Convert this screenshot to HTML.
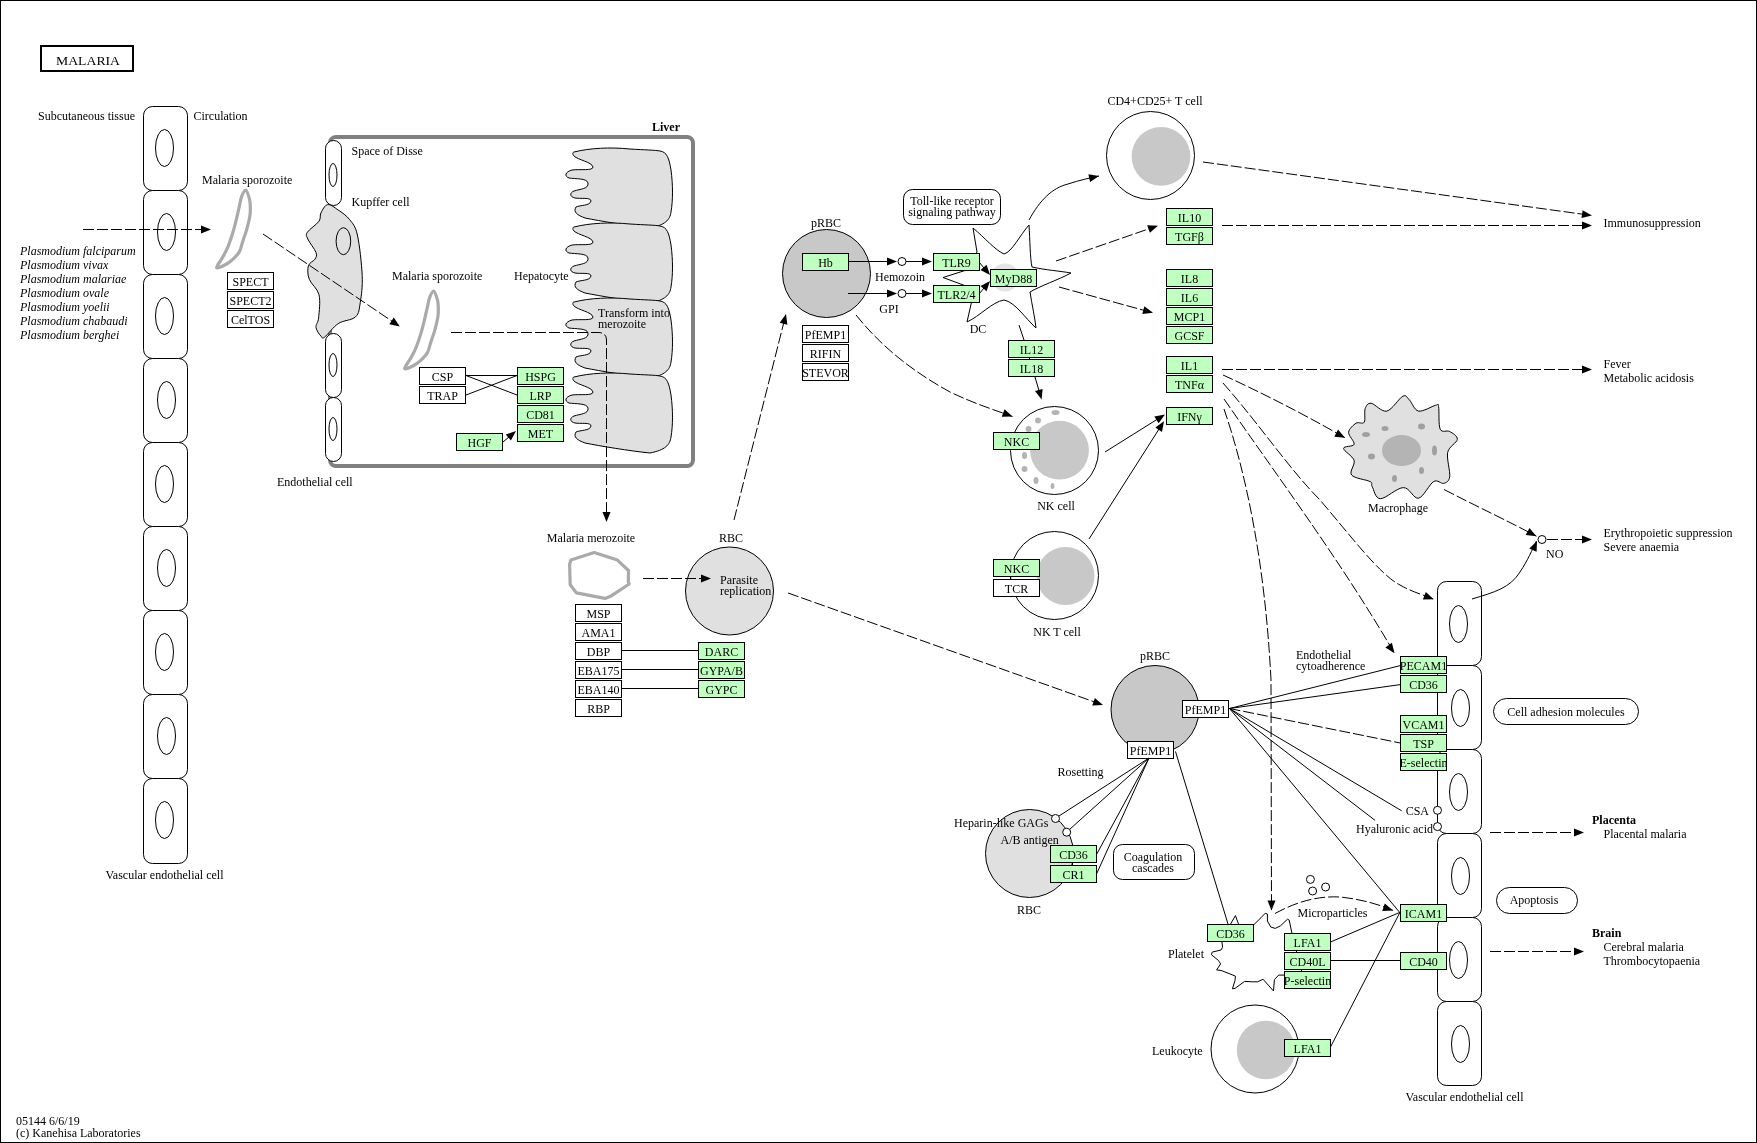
<!DOCTYPE html>
<html><head><meta charset="utf-8"><style>
html,body{margin:0;padding:0;background:#fff;}
svg{display:block;will-change:transform;}
text{font-family:"Liberation Serif",serif;font-size:12px;fill:#000;}
</style></head><body>
<svg width="1757" height="1143" viewBox="0 0 1757 1143">
<rect x="0" y="0" width="1757" height="1143" fill="#fff"/>
<rect x="0.5" y="0.5" width="1756" height="1142" fill="none" stroke="#000" stroke-width="1"/>

<rect x="41" y="46" width="92" height="25" fill="none" stroke="#000" stroke-width="2"/>
<text x="56" y="65" text-anchor="start" font-size="15" textLength="64" lengthAdjust="spacingAndGlyphs">MALARIA</text>
<text x="38" y="120" text-anchor="start" >Subcutaneous tissue</text>
<text x="193.5" y="120" text-anchor="start" >Circulation</text>
<rect x="143.5" y="106.5" width="44" height="84" rx="9" fill="#fff" stroke="#000"/>
<ellipse cx="164.5" cy="148" rx="9" ry="18.5" fill="none" stroke="#000"/>
<rect x="143.5" y="190.5" width="44" height="84" rx="9" fill="#fff" stroke="#000"/>
<ellipse cx="166.5" cy="232" rx="9" ry="18.5" fill="none" stroke="#000"/>
<rect x="143.5" y="274.5" width="44" height="84" rx="9" fill="#fff" stroke="#000"/>
<ellipse cx="164.5" cy="316" rx="9" ry="18.5" fill="none" stroke="#000"/>
<rect x="143.5" y="358.5" width="44" height="84" rx="9" fill="#fff" stroke="#000"/>
<ellipse cx="166.5" cy="400" rx="9" ry="18.5" fill="none" stroke="#000"/>
<rect x="143.5" y="442.5" width="44" height="84" rx="9" fill="#fff" stroke="#000"/>
<ellipse cx="164.5" cy="484" rx="9" ry="18.5" fill="none" stroke="#000"/>
<rect x="143.5" y="526.5" width="44" height="84" rx="9" fill="#fff" stroke="#000"/>
<ellipse cx="166.5" cy="568" rx="9" ry="18.5" fill="none" stroke="#000"/>
<rect x="143.5" y="610.5" width="44" height="84" rx="9" fill="#fff" stroke="#000"/>
<ellipse cx="164.5" cy="652" rx="9" ry="18.5" fill="none" stroke="#000"/>
<rect x="143.5" y="694.5" width="44" height="84" rx="9" fill="#fff" stroke="#000"/>
<ellipse cx="166.5" cy="736" rx="9" ry="18.5" fill="none" stroke="#000"/>
<rect x="143.5" y="778.5" width="44" height="85" rx="9" fill="#fff" stroke="#000"/>
<ellipse cx="164.5" cy="820" rx="9" ry="18.5" fill="none" stroke="#000"/>
<text x="164.5" y="879" text-anchor="middle" >Vascular endothelial cell</text>
<text x="20" y="255" text-anchor="start" font-style="italic">Plasmodium falciparum</text>
<text x="20" y="269" text-anchor="start" font-style="italic">Plasmodium vivax</text>
<text x="20" y="283" text-anchor="start" font-style="italic">Plasmodium malariae</text>
<text x="20" y="297" text-anchor="start" font-style="italic">Plasmodium ovale</text>
<text x="20" y="311" text-anchor="start" font-style="italic">Plasmodium yoelii</text>
<text x="20" y="325" text-anchor="start" font-style="italic">Plasmodium chabaudi</text>
<text x="20" y="339" text-anchor="start" font-style="italic">Plasmodium berghei</text>
<line x1="83" y1="229.5" x2="203.0" y2="229.5" stroke="#000" stroke-dasharray="11 3"/>
<polygon points="211.0,229.5 201.0,233.5 201.0,225.5" fill="#000"/>
<path d="M245.7,190.0 C247.0,190.4 248.7,196.2 249.5,199.1 C250.3,202.0 250.2,204.6 250.3,207.4 C250.4,210.2 250.5,211.9 249.9,215.7 C249.3,219.4 247.7,225.9 246.6,229.9 C245.5,233.9 244.4,236.3 243.2,239.9 C242.0,243.5 241.0,248.5 239.5,251.5 C238.0,254.5 236.2,256.0 234.1,258.1 C231.9,260.2 229.5,262.4 226.6,264.0 C223.7,265.6 217.4,268.5 216.6,267.7 C215.8,266.9 219.8,262.2 221.6,259.0 C223.4,255.8 225.6,252.4 227.4,248.2 C229.2,244.0 231.0,238.4 232.4,234.0 C233.8,229.6 234.7,226.0 235.8,221.6 C236.9,217.2 238.1,211.6 239.1,207.4 C240.1,203.2 240.5,199.5 241.6,196.6 C242.7,193.7 244.4,189.6 245.7,190.0 Z" fill="none" stroke="#aaaaaa" stroke-width="3.2"/>
<text x="202" y="184" text-anchor="start" >Malaria sporozoite</text>
<rect x="227.5" y="272.5" width="46" height="17" fill="#fff" stroke="#000"/>
<text x="250.5" y="286" text-anchor="middle" font-size="12">SPECT</text>
<rect x="227.5" y="291.5" width="46" height="17" fill="#fff" stroke="#000"/>
<text x="250.5" y="305" text-anchor="middle" font-size="12">SPECT2</text>
<rect x="227.5" y="310.5" width="46" height="17" fill="#fff" stroke="#000"/>
<text x="250.5" y="324" text-anchor="middle" font-size="12">CelTOS</text>
<rect x="330" y="137" width="363" height="329" rx="6" fill="none" stroke="#808080" stroke-width="4"/>
<text x="680" y="131" text-anchor="end" font-weight="bold">Liver</text>
<path d="M574,152 C590,148 610,147 630,149 C645,150 655,150 660,151 C667,152 669,158 671,170 C673,185 673,200 671,212 C670,220 665,225 650,228 C630,226 600,221 585,218 C577,215 573,212 576,207 C580,205 590,206 591,201 C591,197 580,199 575,198 C570,197 569,193 574,191 C580,189 589,189 588,183 C587,178 575,179 569,178 C564,176 565,172 572,170 C580,169 593,171 593,167 C592,162 578,160 574,156 C572,154 573,152 574,152 Z" transform="translate(0,0)" fill="#e0e0e0" stroke="#000"/>
<path d="M574,152 C590,148 610,147 630,149 C645,150 655,150 660,151 C667,152 669,158 671,170 C673,185 673,200 671,212 C670,220 665,225 650,228 C630,226 600,221 585,218 C577,215 573,212 576,207 C580,205 590,206 591,201 C591,197 580,199 575,198 C570,197 569,193 574,191 C580,189 589,189 588,183 C587,178 575,179 569,178 C564,176 565,172 572,170 C580,169 593,171 593,167 C592,162 578,160 574,156 C572,154 573,152 574,152 Z" transform="translate(0,75)" fill="#e0e0e0" stroke="#000"/>
<path d="M574,152 C590,148 610,147 630,149 C645,150 655,150 660,151 C667,152 669,158 671,170 C673,185 673,200 671,212 C670,220 665,225 650,228 C630,226 600,221 585,218 C577,215 573,212 576,207 C580,205 590,206 591,201 C591,197 580,199 575,198 C570,197 569,193 574,191 C580,189 589,189 588,183 C587,178 575,179 569,178 C564,176 565,172 572,170 C580,169 593,171 593,167 C592,162 578,160 574,156 C572,154 573,152 574,152 Z" transform="translate(0,150)" fill="#e0e0e0" stroke="#000"/>
<path d="M574,152 C590,148 610,147 630,149 C645,150 655,150 660,151 C667,152 669,158 671,170 C673,185 673,200 671,212 C670,220 665,225 650,228 C630,226 600,221 585,218 C577,215 573,212 576,207 C580,205 590,206 591,201 C591,197 580,199 575,198 C570,197 569,193 574,191 C580,189 589,189 588,183 C587,178 575,179 569,178 C564,176 565,172 572,170 C580,169 593,171 593,167 C592,162 578,160 574,156 C572,154 573,152 574,152 Z" transform="translate(0,225)" fill="#e0e0e0" stroke="#000"/>
<text x="514" y="280" text-anchor="start" >Hepatocyte</text>
<text x="598" y="317" text-anchor="start" >Transform into</text>
<text x="598" y="328" text-anchor="start" >merozoite</text>
<rect x="325.5" y="140.5" width="16" height="65" rx="8" fill="#fff" stroke="#000"/>
<ellipse cx="333" cy="175" rx="4" ry="11.5" fill="none" stroke="#000"/>
<rect x="325.5" y="333.5" width="16" height="64" rx="8" fill="#fff" stroke="#000"/>
<ellipse cx="333" cy="365" rx="4" ry="11.5" fill="none" stroke="#000"/>
<rect x="325.5" y="397.5" width="16" height="64" rx="8" fill="#fff" stroke="#000"/>
<ellipse cx="333" cy="429" rx="4" ry="11.5" fill="none" stroke="#000"/>
<text x="351.5" y="155" text-anchor="start" >Space of Disse</text>
<text x="351.5" y="206" text-anchor="start" >Kupffer cell</text>
<text x="277" y="486" text-anchor="start" >Endothelial cell</text>
<path d="M327.6,204.6 C324.7,205.1 322.3,210.2 320.9,213.0 C319.5,215.8 321.2,218.0 319.0,221.2 C316.8,224.4 309.3,229.2 307.4,232.2 C305.5,235.2 306.4,235.6 307.8,239.0 C309.2,242.4 314.8,249.1 316.0,252.4 C317.2,255.8 316.3,256.9 315.0,259.1 C313.7,261.3 309.3,262.4 308.4,265.8 C307.4,269.2 307.5,274.5 309.3,279.3 C311.1,284.1 317.4,288.3 319.0,294.7 C320.6,301.1 319.1,312.4 318.6,317.8 C318.1,323.2 315.6,324.3 316.0,327.4 C316.4,330.4 319.4,334.5 320.9,336.1 C322.3,337.7 321.8,339.1 324.7,337.0 C327.6,334.9 333.1,327.0 338.2,323.6 C343.3,320.2 351.8,320.4 355.5,316.9 C359.2,313.4 359.2,309.3 360.3,302.4 C361.4,295.5 362.7,286.7 362.2,275.5 C361.7,264.3 359.5,244.3 357.4,235.0 C355.3,225.7 352.9,223.9 349.7,219.7 C346.5,215.5 341.9,212.5 338.2,210.0 C334.5,207.5 330.5,204.1 327.6,204.6 Z" fill="#e0e0e0" stroke="#000"/>
<ellipse cx="343.4" cy="241.2" rx="7.3" ry="13.5" fill="none" stroke="#000"/>
<path d="M245.7,190.0 C247.0,190.4 248.7,196.2 249.5,199.1 C250.3,202.0 250.2,204.6 250.3,207.4 C250.4,210.2 250.5,211.9 249.9,215.7 C249.3,219.4 247.7,225.9 246.6,229.9 C245.5,233.9 244.4,236.3 243.2,239.9 C242.0,243.5 241.0,248.5 239.5,251.5 C238.0,254.5 236.2,256.0 234.1,258.1 C231.9,260.2 229.5,262.4 226.6,264.0 C223.7,265.6 217.4,268.5 216.6,267.7 C215.8,266.9 219.8,262.2 221.6,259.0 C223.4,255.8 225.6,252.4 227.4,248.2 C229.2,244.0 231.0,238.4 232.4,234.0 C233.8,229.6 234.7,226.0 235.8,221.6 C236.9,217.2 238.1,211.6 239.1,207.4 C240.1,203.2 240.5,199.5 241.6,196.6 C242.7,193.7 244.4,189.6 245.7,190.0 Z" transform="translate(188,101)" fill="none" stroke="#aaaaaa" stroke-width="3.2"/>
<text x="392" y="280" text-anchor="start" >Malaria sporozoite</text>
<line x1="263" y1="234" x2="393.2" y2="322.0" stroke="#000" stroke-dasharray="11 3"/>
<polygon points="399.8,326.5 389.3,324.2 393.8,317.6" fill="#000"/>
<rect x="419.5" y="367.5" width="46" height="17" fill="#fff" stroke="#000"/>
<text x="442.5" y="381" text-anchor="middle" font-size="12">CSP</text>
<rect x="419.5" y="386.5" width="46" height="17" fill="#fff" stroke="#000"/>
<text x="442.5" y="400" text-anchor="middle" font-size="12">TRAP</text>
<rect x="517.5" y="367.5" width="46" height="17" fill="#bfffbf" stroke="#000"/>
<text x="540.5" y="381" text-anchor="middle" font-size="12">HSPG</text>
<rect x="517.5" y="386.5" width="46" height="17" fill="#bfffbf" stroke="#000"/>
<text x="540.5" y="400" text-anchor="middle" font-size="12">LRP</text>
<rect x="517.5" y="405.5" width="46" height="17" fill="#bfffbf" stroke="#000"/>
<text x="540.5" y="419" text-anchor="middle" font-size="12">CD81</text>
<rect x="517.5" y="424.5" width="46" height="17" fill="#bfffbf" stroke="#000"/>
<text x="540.5" y="438" text-anchor="middle" font-size="12">MET</text>
<rect x="456.5" y="433.5" width="46" height="17" fill="#bfffbf" stroke="#000"/>
<text x="479.5" y="447" text-anchor="middle" font-size="12">HGF</text>
<line x1="466" y1="375.5" x2="517.0" y2="375.5" stroke="#000"/>
<line x1="466" y1="375.5" x2="517.0" y2="395.0" stroke="#000"/>
<line x1="466" y1="395" x2="517.0" y2="375.5" stroke="#000"/>
<line x1="503" y1="442" x2="509.9" y2="436.2" stroke="#000"/>
<polygon points="516.0,431.0 510.9,440.5 505.8,434.4" fill="#000"/>
<path d="M451,332.5 L598,332.5 Q606.5,332.5 606.5,340 L606.5,514" fill="none" stroke="#000" stroke-dasharray="11 3"/>
<polygon points="606.5,522.0 602.5,512.0 610.5,512.0" fill="#000"/>
<text x="591" y="542" text-anchor="middle" >Malaria merozoite</text>
<path d="M570.9,560.1 L594.2,552.6 L617.4,560.1 L628.5,570.5 L628.3,582 L629.2,584 L610.5,596.3 L605,598.4 L576.4,592.9 L570.2,584.7 L569.6,564.2 Z" fill="none" stroke="#aaaaaa" stroke-width="3.2" stroke-linejoin="round"/>
<text x="731" y="542" text-anchor="middle" >RBC</text>
<circle cx="729.5" cy="591" r="44" fill="#e0e0e0" stroke="#000"/>
<text x="720" y="584" text-anchor="start" >Parasite</text>
<text x="720" y="595" text-anchor="start" >replication</text>
<line x1="643" y1="578.5" x2="703.0" y2="578.5" stroke="#000" stroke-dasharray="11 3"/>
<polygon points="711.0,578.5 701.0,582.5 701.0,574.5" fill="#000"/>
<rect x="575.5" y="604.5" width="46" height="17" fill="#fff" stroke="#000"/>
<text x="598.5" y="618" text-anchor="middle" font-size="12">MSP</text>
<rect x="575.5" y="623.5" width="46" height="17" fill="#fff" stroke="#000"/>
<text x="598.5" y="637" text-anchor="middle" font-size="12">AMA1</text>
<rect x="575.5" y="642.5" width="46" height="17" fill="#fff" stroke="#000"/>
<text x="598.5" y="656" text-anchor="middle" font-size="12">DBP</text>
<rect x="575.5" y="661.5" width="46" height="17" fill="#fff" stroke="#000"/>
<text x="598.5" y="675" text-anchor="middle" font-size="12">EBA175</text>
<rect x="575.5" y="680.5" width="46" height="17" fill="#fff" stroke="#000"/>
<text x="598.5" y="694" text-anchor="middle" font-size="12">EBA140</text>
<rect x="575.5" y="699.5" width="46" height="17" fill="#fff" stroke="#000"/>
<text x="598.5" y="713" text-anchor="middle" font-size="12">RBP</text>
<rect x="698.5" y="642.5" width="46" height="17" fill="#bfffbf" stroke="#000"/>
<text x="721.5" y="656" text-anchor="middle" font-size="12">DARC</text>
<line x1="621" y1="650.5" x2="698.0" y2="650.5" stroke="#000"/>
<rect x="698.5" y="661.5" width="46" height="17" fill="#bfffbf" stroke="#000"/>
<text x="721.5" y="675" text-anchor="middle" font-size="12">GYPA/B</text>
<line x1="621" y1="669.5" x2="698.0" y2="669.5" stroke="#000"/>
<rect x="698.5" y="680.5" width="46" height="17" fill="#bfffbf" stroke="#000"/>
<text x="721.5" y="694" text-anchor="middle" font-size="12">GYPC</text>
<line x1="621" y1="688.5" x2="698.0" y2="688.5" stroke="#000"/>
<line x1="734" y1="520" x2="784.0" y2="321.8" stroke="#000" stroke-dasharray="11 3"/>
<polygon points="786.0,314.0 787.4,324.7 779.7,322.7" fill="#000"/>
<line x1="788" y1="593" x2="1095.5" y2="702.3" stroke="#000" stroke-dasharray="11 3"/>
<polygon points="1103.0,705.0 1092.2,705.4 1094.9,697.9" fill="#000"/>
<text x="826" y="227" text-anchor="middle" >pRBC</text>
<circle cx="826.5" cy="273.5" r="44" fill="#c8c8c8" stroke="#000"/>
<rect x="802.5" y="253.5" width="46" height="17" fill="#bfffbf" stroke="#000"/>
<text x="825.5" y="267" text-anchor="middle" font-size="12">Hb</text>
<rect x="802.5" y="325.5" width="46" height="17" fill="#fff" stroke="#000"/>
<text x="825.5" y="339" text-anchor="middle" font-size="12">PfEMP1</text>
<rect x="802.5" y="344.5" width="46" height="17" fill="#fff" stroke="#000"/>
<text x="825.5" y="358" text-anchor="middle" font-size="12">RIFIN</text>
<rect x="802.5" y="363.5" width="46" height="17" fill="#fff" stroke="#000"/>
<text x="825.5" y="377" text-anchor="middle" font-size="12">STEVOR</text>
<rect x="903.5" y="189.5" width="97" height="35" rx="9" fill="#fff" stroke="#000"/>
<text x="952" y="205" text-anchor="middle" >Toll-like receptor</text>
<text x="952" y="216" text-anchor="middle" >signaling pathway</text>
<path d="M973,228 C985,238 995,250 1004,254 C1012,252 1020,235 1029,225 C1030,240 1030,258 1032,267 C1045,270 1060,271 1071,273 C1058,280 1040,286 1030,292 C1032,305 1035,318 1036,328 C1025,318 1015,302 1004,300 C992,302 980,316 967,322 L972,300 L966,286 L943,277.5 L965,270.5 L977,252 L973,228 Z" fill="#fff" stroke="#000"/>
<circle cx="1005" cy="277.5" r="14" fill="#e4e4e4"/>
<text x="978" y="333" text-anchor="middle" >DC</text>
<rect x="933.5" y="253.5" width="46" height="17" fill="#bfffbf" stroke="#000"/>
<text x="956.5" y="267" text-anchor="middle" font-size="12">TLR9</text>
<rect x="933.5" y="285.5" width="46" height="17" fill="#bfffbf" stroke="#000"/>
<text x="956.5" y="299" text-anchor="middle" font-size="12">TLR2/4</text>
<rect x="990.5" y="269.5" width="46" height="17" fill="#bfffbf" stroke="#000"/>
<text x="1013.5" y="283" text-anchor="middle" font-size="12">MyD88</text>
<line x1="848" y1="261.5" x2="889.0" y2="261.5" stroke="#000"/>
<polygon points="897.0,261.5 887.0,265.5 887.0,257.5" fill="#000"/>
<circle cx="902" cy="261.5" r="4" fill="#fff" stroke="#000"/>
<line x1="906" y1="261.5" x2="924.0" y2="261.5" stroke="#000"/>
<polygon points="932.0,261.5 922.0,265.5 922.0,257.5" fill="#000"/>
<line x1="848" y1="293.5" x2="889.0" y2="293.5" stroke="#000"/>
<polygon points="897.0,293.5 887.0,297.5 887.0,289.5" fill="#000"/>
<circle cx="902" cy="293.5" r="4" fill="#fff" stroke="#000"/>
<line x1="906" y1="293.5" x2="924.0" y2="293.5" stroke="#000"/>
<polygon points="932.0,293.5 922.0,297.5 922.0,289.5" fill="#000"/>
<text x="900" y="281" text-anchor="middle" >Hemozoin</text>
<text x="889" y="313" text-anchor="middle" >GPI</text>
<line x1="979" y1="262" x2="984.8" y2="268.9" stroke="#000"/>
<polygon points="990.0,275.0 980.5,269.9 986.6,264.8" fill="#000"/>
<line x1="979" y1="294" x2="984.8" y2="287.1" stroke="#000"/>
<polygon points="990.0,281.0 986.6,291.2 980.5,286.1" fill="#000"/>
<rect x="1008.5" y="340.5" width="46" height="17" fill="#bfffbf" stroke="#000"/>
<text x="1031.5" y="354" text-anchor="middle" font-size="12">IL12</text>
<rect x="1008.5" y="359.5" width="46" height="17" fill="#bfffbf" stroke="#000"/>
<text x="1031.5" y="373" text-anchor="middle" font-size="12">IL18</text>
<line x1="1019" y1="325" x2="1024.0" y2="340.0" stroke="#000"/>
<line x1="1035" y1="377" x2="1039.4" y2="391.9" stroke="#000"/>
<polygon points="1041.6,399.6 1035.0,391.1 1042.6,388.9" fill="#000"/>
<path d="M856,315 C880,345 910,370 950,392 C975,404 995,410 1012.5,416.6" fill="none" stroke="#000" stroke-dasharray="11 3"/>
<polygon points="1012.5,416.6 1001.7,416.8 1004.6,409.3" fill="#000"/>
<text x="1155" y="105" text-anchor="middle" >CD4+CD25+ T cell</text>
<circle cx="1150.5" cy="155.5" r="44" fill="#fff" stroke="#000"/>
<circle cx="1161" cy="156.4" r="29.4" fill="#c8c8c8"/>
<path d="M1029,220 C1040,200 1052,188 1068,184 C1080,180 1090,178 1099,176" fill="none" stroke="#000"/>
<polygon points="1099.0,176.0 1090.1,182.0 1088.4,174.2" fill="#000"/>
<line x1="1203" y1="162" x2="1584.1" y2="214.4" stroke="#000" stroke-dasharray="11 3"/>
<polygon points="1592.0,215.5 1581.5,218.1 1582.6,210.2" fill="#000"/>
<rect x="1166.5" y="208.5" width="46" height="17" fill="#bfffbf" stroke="#000"/>
<text x="1189.5" y="222" text-anchor="middle" font-size="12">IL10</text>
<rect x="1166.5" y="227.5" width="46" height="17" fill="#bfffbf" stroke="#000"/>
<text x="1189.5" y="241" text-anchor="middle" font-size="12">TGF&#946;</text>
<rect x="1166.5" y="269.5" width="46" height="17" fill="#bfffbf" stroke="#000"/>
<text x="1189.5" y="283" text-anchor="middle" font-size="12">IL8</text>
<rect x="1166.5" y="288.5" width="46" height="17" fill="#bfffbf" stroke="#000"/>
<text x="1189.5" y="302" text-anchor="middle" font-size="12">IL6</text>
<rect x="1166.5" y="307.5" width="46" height="17" fill="#bfffbf" stroke="#000"/>
<text x="1189.5" y="321" text-anchor="middle" font-size="12">MCP1</text>
<rect x="1166.5" y="326.5" width="46" height="17" fill="#bfffbf" stroke="#000"/>
<text x="1189.5" y="340" text-anchor="middle" font-size="12">GCSF</text>
<rect x="1166.5" y="356.5" width="46" height="17" fill="#bfffbf" stroke="#000"/>
<text x="1189.5" y="370" text-anchor="middle" font-size="12">IL1</text>
<rect x="1166.5" y="375.5" width="46" height="17" fill="#bfffbf" stroke="#000"/>
<text x="1189.5" y="389" text-anchor="middle" font-size="12">TNF&#945;</text>
<rect x="1166.5" y="407.5" width="46" height="17" fill="#bfffbf" stroke="#000"/>
<text x="1189.5" y="421" text-anchor="middle" font-size="12">IFN&#947;</text>
<line x1="1056" y1="261" x2="1150.4" y2="228.3" stroke="#000" stroke-dasharray="11 3"/>
<polygon points="1158.0,225.7 1149.9,232.8 1147.2,225.2" fill="#000"/>
<line x1="1059" y1="287" x2="1145.3" y2="310.7" stroke="#000" stroke-dasharray="11 3"/>
<polygon points="1153.0,312.8 1142.3,314.0 1144.4,306.3" fill="#000"/>
<line x1="1222" y1="225.5" x2="1584.0" y2="225.5" stroke="#000" stroke-dasharray="11 3"/>
<polygon points="1592.0,225.5 1582.0,229.5 1582.0,221.5" fill="#000"/>
<text x="1603.5" y="227" text-anchor="start" >Immunosuppression</text>
<line x1="1222" y1="369.5" x2="1584.0" y2="369.5" stroke="#000" stroke-dasharray="11 3"/>
<polygon points="1592.0,369.5 1582.0,373.5 1582.0,365.5" fill="#000"/>
<text x="1603.5" y="367.5" text-anchor="start" >Fever</text>
<text x="1603.5" y="381.5" text-anchor="start" >Metabolic acidosis</text>
<circle cx="1054.5" cy="450.5" r="44" fill="#fff" stroke="#000"/>
<circle cx="1059.5" cy="450.2" r="29.4" fill="#c8c8c8"/>
<ellipse cx="1055.5" cy="412.5" rx="4" ry="2.5" fill="#b4b4b4"/>
<ellipse cx="1038" cy="420.5" rx="3" ry="3" fill="#b4b4b4"/>
<ellipse cx="1028.5" cy="429" rx="3" ry="3" fill="#b4b4b4"/>
<ellipse cx="1024.5" cy="455.5" rx="2.5" ry="3.5" fill="#b4b4b4"/>
<ellipse cx="1024.5" cy="469" rx="3" ry="3" fill="#b4b4b4"/>
<ellipse cx="1036" cy="480.5" rx="2.5" ry="3.5" fill="#b4b4b4"/>
<ellipse cx="1052.5" cy="486" rx="2" ry="3" fill="#b4b4b4"/>
<rect x="993.5" y="432.5" width="46" height="17" fill="#bfffbf" stroke="#000"/>
<text x="1016.5" y="446" text-anchor="middle" font-size="12">NKC</text>
<text x="1056" y="510" text-anchor="middle" >NK cell</text>
<line x1="1105" y1="452" x2="1158.2" y2="418.7" stroke="#000"/>
<polygon points="1165.0,414.5 1158.6,423.2 1154.4,416.4" fill="#000"/>
<circle cx="1054.5" cy="575.5" r="44" fill="#fff" stroke="#000"/>
<circle cx="1065.5" cy="576" r="29" fill="#c8c8c8"/>
<rect x="993.5" y="559.5" width="46" height="17" fill="#bfffbf" stroke="#000"/>
<text x="1016.5" y="573" text-anchor="middle" font-size="12">NKC</text>
<rect x="993.5" y="579.5" width="46" height="17" fill="#fff" stroke="#000"/>
<text x="1016.5" y="593" text-anchor="middle" font-size="12">TCR</text>
<text x="1057" y="636" text-anchor="middle" >NK T cell</text>
<line x1="1089" y1="539" x2="1159.7" y2="428.0" stroke="#000"/>
<polygon points="1164.0,421.3 1162.0,431.9 1155.3,427.6" fill="#000"/>
<path d="M1402.9,396.2 C1406.7,394.4 1406.9,397.6 1409.5,400.1 C1412.1,402.6 1414.2,410.2 1418.5,411.1 C1422.8,412.0 1432.2,406.1 1435.6,405.3 C1438.9,404.6 1437.8,402.6 1438.6,406.6 C1439.4,410.6 1438.3,425.1 1440.2,429.2 C1442.1,433.3 1446.9,429.8 1449.7,431.5 C1452.5,433.2 1457.6,435.8 1457.3,439.3 C1457.0,442.8 1449.0,446.2 1447.7,452.4 C1446.4,458.6 1450.4,471.3 1449.7,476.5 C1449.0,481.7 1446.4,482.5 1443.7,483.4 C1441.0,484.2 1437.8,479.1 1433.6,481.6 C1429.4,484.1 1423.5,497.2 1418.5,498.2 C1413.5,499.2 1409.8,487.5 1403.4,487.6 C1397.0,487.7 1385.5,498.9 1380.3,498.7 C1375.1,498.5 1373.9,489.5 1372.2,486.6 C1370.5,483.8 1373.6,483.5 1370.2,481.6 C1366.8,479.7 1354.3,478.5 1351.6,475.0 C1348.9,471.5 1355.4,464.8 1354.1,460.4 C1352.8,456.0 1343.6,451.1 1343.6,448.4 C1343.6,445.7 1353.3,447.0 1354.1,444.3 C1354.9,441.6 1348.3,435.8 1348.6,432.3 C1348.9,428.8 1353.5,424.9 1356.1,423.2 C1358.7,421.5 1362.7,424.6 1364.2,422.2 C1365.7,419.8 1364.0,411.8 1365.2,408.6 C1366.4,405.5 1367.6,402.9 1371.2,403.3 C1374.8,403.7 1381.5,412.3 1386.8,411.1 C1392.1,409.9 1399.1,398.0 1402.9,396.2 Z" fill="#e0e0e0" stroke="#000"/>
<ellipse cx="1401.5" cy="450.5" rx="19.5" ry="15.5" fill="#b4b4b4"/>
<ellipse cx="1366" cy="434.5" rx="4" ry="2.5" fill="#a0a0a0"/>
<ellipse cx="1385" cy="428.5" rx="3.5" ry="2.5" fill="#a0a0a0"/>
<ellipse cx="1421.5" cy="426.5" rx="3.5" ry="3" fill="#a0a0a0"/>
<ellipse cx="1434.5" cy="450.5" rx="2.5" ry="5" fill="#a0a0a0"/>
<ellipse cx="1371.5" cy="456.5" rx="3.5" ry="3" fill="#a0a0a0"/>
<ellipse cx="1421.5" cy="470.5" rx="2.5" ry="3.5" fill="#a0a0a0"/>
<ellipse cx="1394.5" cy="478.5" rx="2.5" ry="3.5" fill="#a0a0a0"/>
<text x="1398" y="512" text-anchor="middle" >Macrophage</text>
<path d="M1223,375 C1260,392 1300,412 1345,437.8" fill="none" stroke="#000" stroke-dasharray="11 3"/>
<polygon points="1345.0,437.8 1334.3,436.7 1338.0,429.6" fill="#000"/>
<path d="M1223,383 C1260,425 1290,470 1320,500 C1350,535 1380,575 1400,585 C1412,592 1424,595 1433.7,599.3" fill="none" stroke="#000" stroke-dasharray="11 3"/>
<polygon points="1433.7,599.3 1422.9,599.4 1425.8,592.0" fill="#000"/>
<path d="M1224,399 C1280,480 1340,560 1394.5,653.3" fill="none" stroke="#000" stroke-dasharray="11 3"/>
<polygon points="1394.5,653.3 1385.4,647.5 1391.9,642.8" fill="#000"/>
<path d="M1224,409 C1245,470 1265,560 1271,680 L1271.5,910" fill="none" stroke="#000" stroke-dasharray="11 3"/>
<polygon points="1271.5,910.5 1267.5,900.5 1275.5,900.5" fill="#000"/>
<path d="M1444,489.5 C1480,508 1510,522 1536.4,536.2" fill="none" stroke="#000" stroke-dasharray="11 3"/>
<polygon points="1536.4,536.2 1525.7,534.9 1529.5,527.9" fill="#000"/>
<circle cx="1542" cy="539.5" r="4" fill="#fff" stroke="#000"/>
<line x1="1547" y1="539.5" x2="1584.0" y2="539.5" stroke="#000" stroke-dasharray="11 3"/>
<polygon points="1592.0,539.5 1582.0,543.5 1582.0,535.5" fill="#000"/>
<text x="1546" y="558" text-anchor="start" >NO</text>
<text x="1603.5" y="537" text-anchor="start" >Erythropoietic suppression</text>
<text x="1603.5" y="551" text-anchor="start" >Severe anaemia</text>
<rect x="1437.5" y="581.5" width="44" height="84" rx="9" fill="#fff" stroke="#000"/>
<ellipse cx="1458.5" cy="624" rx="9" ry="18.5" fill="none" stroke="#000"/>
<rect x="1437.5" y="665.5" width="44" height="84" rx="9" fill="#fff" stroke="#000"/>
<ellipse cx="1460.5" cy="708" rx="9" ry="18.5" fill="none" stroke="#000"/>
<rect x="1437.5" y="749.5" width="44" height="84" rx="9" fill="#fff" stroke="#000"/>
<ellipse cx="1458.5" cy="792" rx="9" ry="18.5" fill="none" stroke="#000"/>
<rect x="1437.5" y="833.5" width="44" height="84" rx="9" fill="#fff" stroke="#000"/>
<ellipse cx="1460.5" cy="876" rx="9" ry="18.5" fill="none" stroke="#000"/>
<rect x="1437.5" y="917.5" width="44" height="84" rx="9" fill="#fff" stroke="#000"/>
<ellipse cx="1458.5" cy="960" rx="9" ry="18.5" fill="none" stroke="#000"/>
<rect x="1437.5" y="1001.5" width="44" height="84" rx="9" fill="#fff" stroke="#000"/>
<ellipse cx="1460.5" cy="1044" rx="9" ry="18.5" fill="none" stroke="#000"/>
<text x="1464.5" y="1101" text-anchor="middle" >Vascular endothelial cell</text>
<path d="M1472,599 C1495,592 1510,588 1520,572 C1528,560 1532,550 1536.4,541.2" fill="none" stroke="#000"/>
<polygon points="1537.0,541.0 1536.6,551.8 1529.3,548.5" fill="#000"/>
<text x="1155" y="660" text-anchor="middle" >pRBC</text>
<circle cx="1155" cy="709.5" r="44" fill="#c8c8c8" stroke="#000"/>
<rect x="1182.5" y="700.5" width="46" height="17" fill="#fff" stroke="#000"/>
<text x="1205.5" y="714" text-anchor="middle" font-size="12">PfEMP1</text>
<rect x="1127.5" y="741.5" width="46" height="17" fill="#fff" stroke="#000"/>
<text x="1150.5" y="755" text-anchor="middle" font-size="12">PfEMP1</text>
<text x="1057.5" y="776" text-anchor="start" >Rosetting</text>
<circle cx="1029.5" cy="853.5" r="44" fill="#e0e0e0" stroke="#000"/>
<text x="1029" y="914" text-anchor="middle" >RBC</text>
<text x="954" y="827" text-anchor="start" >Heparin-like GAGs</text>
<text x="1000.5" y="843.5" text-anchor="start" >A/B antigen</text>
<rect x="1050.5" y="845.5" width="46" height="17" fill="#bfffbf" stroke="#000"/>
<text x="1073.5" y="859" text-anchor="middle" font-size="12">CD36</text>
<rect x="1050.5" y="865.5" width="46" height="17" fill="#bfffbf" stroke="#000"/>
<text x="1073.5" y="879" text-anchor="middle" font-size="12">CR1</text>
<line x1="1149" y1="758" x2="1059.0" y2="816.0" stroke="#000"/>
<line x1="1149" y1="758" x2="1069.5" y2="829.5" stroke="#000"/>
<line x1="1149" y1="758" x2="1096.5" y2="854.5" stroke="#000"/>
<line x1="1149" y1="758" x2="1096.5" y2="874.0" stroke="#000"/>
<circle cx="1055.5" cy="818.5" r="4" fill="#fff" stroke="#000"/>
<circle cx="1066.7" cy="832.2" r="4" fill="#fff" stroke="#000"/>
<rect x="1113.5" y="844.5" width="81" height="35" rx="9" fill="#fff" stroke="#000"/>
<text x="1153" y="860.5" text-anchor="middle" >Coagulation</text>
<text x="1153" y="871.5" text-anchor="middle" >cascades</text>
<line x1="1175.5" y1="751.5" x2="1228.0" y2="924.0" stroke="#000"/>
<line x1="1229.5" y1="708.5" x2="1400.3" y2="665.6" stroke="#000"/>
<line x1="1229.5" y1="708.5" x2="1400.3" y2="684.6" stroke="#000"/>
<line x1="1229.5" y1="708.5" x2="1400.3" y2="743.0" stroke="#000" stroke-dasharray="11 3"/>
<line x1="1229.5" y1="708.5" x2="1401.7" y2="810.8" stroke="#000"/>
<line x1="1229.5" y1="708.5" x2="1375.0" y2="820.3" stroke="#000"/>
<line x1="1229.5" y1="708.5" x2="1399.6" y2="912.3" stroke="#000"/>
<text x="1296" y="659" text-anchor="start" >Endothelial</text>
<text x="1296" y="670" text-anchor="start" >cytoadherence</text>
<rect x="1400.5" y="656.5" width="46" height="17" fill="#bfffbf" stroke="#000"/>
<text x="1423.5" y="670" text-anchor="middle" font-size="12">PECAM1</text>
<rect x="1400.5" y="675.5" width="46" height="17" fill="#bfffbf" stroke="#000"/>
<text x="1423.5" y="689" text-anchor="middle" font-size="12">CD36</text>
<rect x="1400.5" y="715.5" width="46" height="17" fill="#bfffbf" stroke="#000"/>
<text x="1423.5" y="729" text-anchor="middle" font-size="12">VCAM1</text>
<rect x="1400.5" y="734.5" width="46" height="17" fill="#bfffbf" stroke="#000"/>
<text x="1423.5" y="748" text-anchor="middle" font-size="12">TSP</text>
<rect x="1400.5" y="753.5" width="46" height="17" fill="#bfffbf" stroke="#000"/>
<text x="1423.5" y="767" text-anchor="middle" font-size="12">E-selectin</text>
<circle cx="1437.5" cy="810.3" r="4" fill="#fff" stroke="#000"/>
<circle cx="1437.5" cy="826.6" r="4" fill="#fff" stroke="#000"/>
<text x="1429" y="815" text-anchor="end" >CSA</text>
<text x="1356" y="833" text-anchor="start" >Hyaluronic acid</text>
<rect x="1493.5" y="698.5" width="145" height="26" rx="13" fill="#fff" stroke="#000"/>
<text x="1566" y="716" text-anchor="middle" >Cell adhesion molecules</text>
<line x1="1490" y1="832.5" x2="1576.0" y2="832.5" stroke="#000" stroke-dasharray="11 3"/>
<polygon points="1584.0,832.5 1574.0,836.5 1574.0,828.5" fill="#000"/>
<text x="1592" y="824" text-anchor="start" font-weight="bold">Placenta</text>
<text x="1603.5" y="837.5" text-anchor="start" >Placental malaria</text>
<polygon points="1207,924 1230.6,924 1253.5,925 1261.2,917.5 1265.2,913.3 1267.4,914 1267.4,921 1270.9,927.1 1275.2,928.4 1280.5,925.8 1287.5,919.2 1289.2,920.1 1291.9,933 1284,933 1284,975.1 1284,975.1 1278.7,975.1 1274.4,979.6 1273.5,991 1263,979.2 1257.7,981.8 1252.5,981.8 1244.6,981.4 1235,988.4 1232.4,988.8 1235,980.5 1235.4,976.1 1221,970.4 1216.6,970 1220.6,963.9 1218.4,960.4 1211.4,954.7 1212.2,952.1 1221,950 1222.6,947.2 1221.9,941.8 1207,941.8" fill="#fff" stroke="none"/>
<polyline points="1253.5,925 1261.2,917.5 1265.2,913.3 1267.4,914 1267.4,921 1270.9,927.1 1275.2,928.4 1280.5,925.8 1287.5,919.2 1289.2,920.1 1291.9,933" fill="none" stroke="#000"/>
<polyline points="1221.9,941.8 1222.6,947.2 1221,950 1212.2,952.1 1211.4,954.7 1218.4,960.4 1220.6,963.9 1216.6,970 1221,970.4 1235.4,976.1 1235,980.5 1232.4,988.8 1235,988.4 1244.6,981.4 1252.5,981.8 1257.7,981.8 1263,979.2 1273.5,991 1274.4,979.6 1278.7,975.1 1284,975.1" fill="none" stroke="#000"/>
<polyline points="1230.6,924 1235.4,915.6 1238.5,924" fill="none" stroke="#000"/>
<rect x="1207.5" y="924.5" width="46" height="17" fill="#bfffbf" stroke="#000"/>
<text x="1230.5" y="938" text-anchor="middle" font-size="12">CD36</text>
<text x="1168" y="958" text-anchor="start" >Platelet</text>
<rect x="1284.5" y="933.5" width="46" height="17" fill="#bfffbf" stroke="#000"/>
<text x="1307.5" y="947" text-anchor="middle" font-size="12">LFA1</text>
<rect x="1284.5" y="952.5" width="46" height="17" fill="#bfffbf" stroke="#000"/>
<text x="1307.5" y="966" text-anchor="middle" font-size="12">CD40L</text>
<rect x="1284.5" y="971.5" width="46" height="17" fill="#bfffbf" stroke="#000"/>
<text x="1307.5" y="985" text-anchor="middle" font-size="12">P-selectin</text>
<circle cx="1310.4" cy="879.4" r="4" fill="#fff" stroke="#000"/>
<circle cx="1325.6" cy="887" r="4" fill="#fff" stroke="#000"/>
<circle cx="1312.6" cy="891" r="4" fill="#fff" stroke="#000"/>
<text x="1297.5" y="916.5" text-anchor="start" >Microparticles</text>
<path d="M1275,913.5 C1300,900 1320,896 1340,897 C1360,899 1378,904 1393,910.4" fill="none" stroke="#000" stroke-dasharray="11 3"/>
<polygon points="1393.0,910.4 1382.2,911.0 1384.8,903.4" fill="#000"/>
<rect x="1400.5" y="904.5" width="46" height="17" fill="#bfffbf" stroke="#000"/>
<text x="1423.5" y="918" text-anchor="middle" font-size="12">ICAM1</text>
<rect x="1400.5" y="952.5" width="46" height="17" fill="#bfffbf" stroke="#000"/>
<text x="1423.5" y="966" text-anchor="middle" font-size="12">CD40</text>
<line x1="1330.5" y1="942" x2="1400.0" y2="912.3" stroke="#000"/>
<line x1="1330.5" y1="960.5" x2="1400.0" y2="960.5" stroke="#000"/>
<rect x="1496.5" y="887.5" width="81" height="26" rx="13" fill="#fff" stroke="#000"/>
<text x="1534" y="904" text-anchor="middle" >Apoptosis</text>
<line x1="1490" y1="951.5" x2="1576.0" y2="951.5" stroke="#000" stroke-dasharray="11 3"/>
<polygon points="1584.0,951.5 1574.0,955.5 1574.0,947.5" fill="#000"/>
<text x="1592" y="937" text-anchor="start" font-weight="bold">Brain</text>
<text x="1603.5" y="950.5" text-anchor="start" >Cerebral malaria</text>
<text x="1603.5" y="964.5" text-anchor="start" >Thrombocytopaenia</text>
<circle cx="1255" cy="1049" r="44" fill="#fff" stroke="#000"/>
<circle cx="1266" cy="1050" r="29.2" fill="#c8c8c8"/>
<rect x="1284.5" y="1039.5" width="46" height="17" fill="#bfffbf" stroke="#000"/>
<text x="1307.5" y="1053" text-anchor="middle" font-size="12">LFA1</text>
<text x="1152" y="1055" text-anchor="start" >Leukocyte</text>
<line x1="1330.5" y1="1047" x2="1400.0" y2="912.3" stroke="#000"/>
<line x1="1029.5" y1="357" x2="1029.5" y2="360" stroke="#000"/>
<line x1="1010.5" y1="576" x2="1010.5" y2="580" stroke="#000"/>
<line x1="1296.5" y1="950" x2="1296.5" y2="953" stroke="#000"/>
<line x1="1301.5" y1="969" x2="1301.5" y2="972" stroke="#000"/>
<line x1="1072.5" y1="862" x2="1072.5" y2="866" stroke="#000"/>
<text x="16" y="1125" text-anchor="start" >05144 6/6/19</text>
<text x="16" y="1137" text-anchor="start" >(c) Kanehisa Laboratories</text>
</svg></body></html>
